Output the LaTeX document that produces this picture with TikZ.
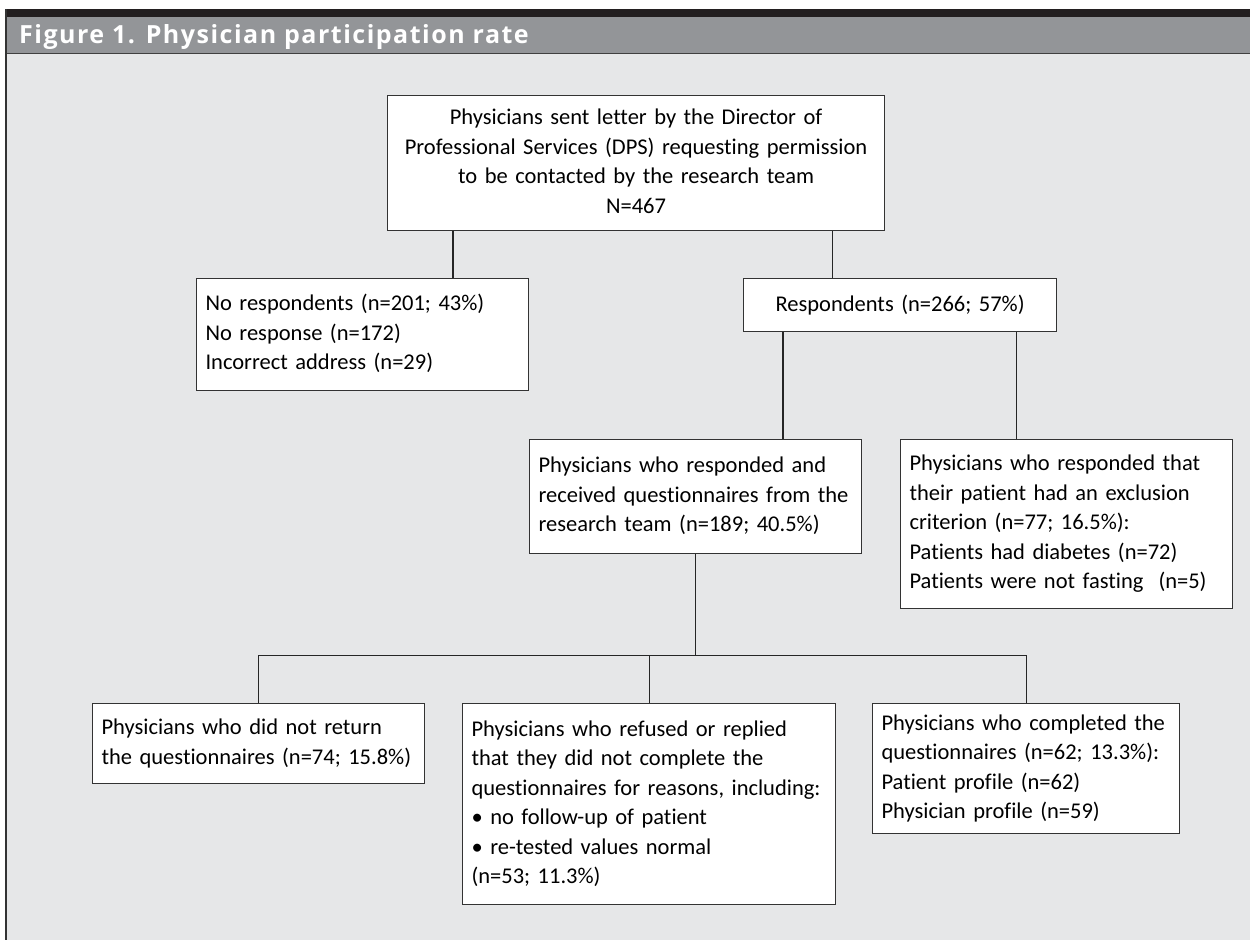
\documentclass[tikz,border=0pt]{standalone}
\usepackage{fontspec}
\setmainfont{Carlito}[Ligatures=NoCommon]
\newfontfamily\headfamily{Open Sans}[LetterSpace=6]
\usetikzlibrary{calc}

\definecolor{barblack}{RGB}{35,31,32}
\definecolor{headgray}{RGB}{147,149,152}
\definecolor{bodygray}{RGB}{230,231,232}

\newcommand{\bodyfont}{\fontsize{22.5}{29.5}\selectfont}
\newcommand{\titlefont}{\headfamily\fontsize{25}{28}\selectfont\bfseries}
% box text, one line per row, never rewrapped
\newcommand{\rows}[2][l]{\begin{tabular}{@{}#1@{}}#2\end{tabular}}

\tikzset{
    flowbox/.style={draw=black!80, fill=white, line width=1.1pt, anchor=north west,
        inner xsep=9pt, inner ysep=0pt, align=left, font=\bodyfont},
    link/.style={draw=black!85, line width=1.1pt}
}

\begin{document}
\begin{tikzpicture}[x=1pt, y=-1pt]
    \useasboundingbox (0,0) rectangle (1250,940);
    % Draw frame and title band
    \fill[white] (0,0) rectangle (1250,940);
    \fill[bodygray] (6,53) rectangle (1250,940);
    \fill[headgray] (6,17) rectangle (1250,53);
    \fill[barblack] (5,9) rectangle (1250,17);
    \draw[black!75, line width=1pt] (6,53) -- (1250,53);
    \draw[black!80, line width=1.2pt] (6,9) -- (6,940);
    \node[anchor=base west, text=white, font=\titlefont, inner sep=0pt] (title) at (19,43)
        {Figure 1. Physician participation rate};

    % Draw the boxes
    \node[flowbox, align=center, text width=479pt, minimum height=135pt] (dps) at (387,95)
        {\rows[c]{Physicians sent letter by the Director of\\
         Professional Services (DPS) requesting permission\\
         to be contacted by the research team\\
         N=467}};
    \node[flowbox, text width=314pt, minimum height=112pt] (norsp) at (196,278)
        {\rows{No respondents (n=201; 43\%)\\
         No response (n=172)\\
         Incorrect address (n=29)}};
    \node[flowbox, align=center, text width=295pt, minimum height=53pt] (resp) at (743,278)
        {Respondents (n=266; 57\%)};
    \node[flowbox, text width=314pt, minimum height=114pt] (recv) at (529,439)
        {\rows{Physicians who responded and\\
         received questionnaires from the\\
         research team (n=189; 40.5\%)}};
    \node[flowbox, text width=314pt, minimum height=169pt] (excl) at (900,439)
        {\rows{Physicians who responded that\\
         their patient had an exclusion\\
         criterion (n=77; 16.5\%):\\
         Patients had diabetes (n=72)\\
         Patients were not fasting~ (n=5)}};
    \node[flowbox, text width=314pt, minimum height=80pt] (noret) at (92,703)
        {\rows{Physicians who did not return\\
         the questionnaires (n=74; 15.8\%)}};
    \node[flowbox, text width=355pt, minimum height=201pt] (refused) at (462,703)
        {\rows{Physicians who refused or replied\\
         that they did not complete the\\
         questionnaires for reasons, including:\\
         \textbullet\ no follow-up of patient\\
         \textbullet\ re-tested values normal\\
         (n=53; 11.3\%)}};
    \node[flowbox, text width=289pt, minimum height=130pt] (compl) at (872,703)
        {\rows{Physicians who completed the\\
         questionnaires (n=62; 13.3\%):\\
         Patient profile (n=62)\\
         Physician profile (n=59)}};

    % Draw the connectors
    \coordinate (d1) at ([xshift=66pt]dps.south west);
    \coordinate (d2) at ([xshift=-53pt]dps.south east);
    \coordinate (r1) at ([xshift=40pt]resp.south west);
    \coordinate (r2) at ([xshift=-41pt]resp.south east);
    \coordinate (bar) at ($(recv.south)+(0,101)$);
    \draw[link] (d1) -- (d1 |- norsp.north);
    \draw[link] (d2) -- (d2 |- resp.north);
    \draw[link] (r1) -- (r1 |- recv.north);
    \draw[link] (r2) -- (r2 |- excl.north);
    \draw[link] (recv.south) -- (bar);
    \draw[link] (noret.north) -- (noret.north |- bar) -- (compl.north |- bar) -- (compl.north);
    \draw[link] (refused.north) -- (refused.north |- bar);
\end{tikzpicture}
\end{document}
